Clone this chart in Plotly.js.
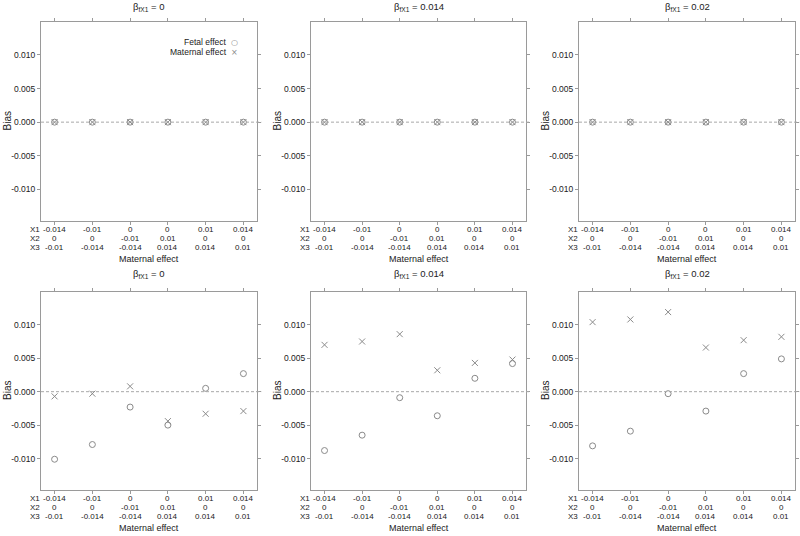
<!DOCTYPE html>
<html>
<head>
<meta charset="utf-8">
<script src="https://cdn.plot.ly/plotly-3.0.1.min.js"></script>
<style>
  body { margin: 0; background: #fff; }
  #chart { width: 800px; height: 536px; }
</style>
</head>
<body>
<div id="chart"></div>
<script>
// scenarios on the x axis (positions 1..6) and their three label rows
var scenario = [1, 2, 3, 4, 5, 6];
var x1Labels = ['-0.014', '-0.01', '0', '0', '0.01', '0.014'];
var x2Labels = ['0', '0', '-0.01', '0.01', '0', '0'];
var x3Labels = ['-0.01', '-0.014', '-0.014', '0.014', '0.014', '0.01'];
var rowNames = ['X1', 'X2', 'X3'];

// one title per column
var betaValues = ['0', '0.014', '0.02'];

var yTickVals = [-0.01, -0.005, 0, 0.005, 0.01];
var yTickText = ['-0.010', '-0.005', '0.000', '0.005', '0.010'];

// top row
var fetalTop1 = [0, 0, 0, 0, 0, 0];
var maternalTop1 = [0, 0, 0, 0, 0, 0];
var fetalTop2 = [0, 0, 0, 0, 0, 0];
var maternalTop2 = [0, 0, 0, 0, 0, 0];
var fetalTop3 = [0, 0, 0, 0, 0, 0];
var maternalTop3 = [0, 0, 0, 0, 0, 0];

// bottom row
var fetalBot1 = [-0.0101, -0.0079, -0.0023, -0.0050, 0.0005, 0.0027];
var maternalBot1 = [-0.0007, -0.0003, 0.0008, -0.0044, -0.0033, -0.0029];
var fetalBot2 = [-0.0088, -0.0065, -0.0009, -0.0036, 0.0020, 0.0042];
var maternalBot2 = [0.0070, 0.0075, 0.0086, 0.0032, 0.0043, 0.0048];
var fetalBot3 = [-0.0081, -0.0059, -0.0003, -0.0029, 0.0027, 0.0049];
var maternalBot3 = [0.0104, 0.0108, 0.0119, 0.0066, 0.0077, 0.0082];

var fetalAll = [fetalTop1, fetalTop2, fetalTop3, fetalBot1, fetalBot2, fetalBot3];
var maternalAll = [maternalTop1, maternalTop2, maternalTop3, maternalBot1, maternalBot2, maternalBot3];

var gray = '#8a8a8a';
var axisGray = '#9a9a9a';
var textCol = '#222';

var xDomains = [[0.05125, 0.32125], [0.38875, 0.6575], [0.72375, 0.99375]];
var yDomains = [[0.5877, 0.959], [0.0858, 0.4552]];
var titleShift = [15, 18];

var data = [];
var layout = {
  width: 800,
  height: 536,
  margin: { l: 0, r: 0, t: 0, b: 0 },
  paper_bgcolor: '#fff',
  plot_bgcolor: '#fff',
  font: { family: 'Liberation Sans, Arial, sans-serif', size: 8, color: textCol },
  showlegend: false,
  annotations: [],
  shapes: []
};

for (var p = 0; p < 6; p++) {
  var n = p + 1;
  var row = p < 3 ? 0 : 1;
  var col = p % 3;
  var xa = 'x' + (n === 1 ? '' : n);
  var ya = 'y' + (n === 1 ? '' : n);

  data.push({
    type: 'scatter', mode: 'markers', xaxis: xa, yaxis: ya,
    x: scenario, y: fetalAll[p], name: 'Fetal effect',
    marker: { symbol: 'circle-open', size: 6, color: gray, line: { width: 1 } },
    hoverinfo: 'x+y'
  });
  data.push({
    type: 'scatter', mode: 'markers', xaxis: xa, yaxis: ya,
    x: scenario, y: maternalAll[p], name: 'Maternal effect',
    marker: { symbol: 'x-thin-open', size: 6, color: gray, line: { width: 1, color: gray } },
    hoverinfo: 'x+y'
  });

  layout['xaxis' + (n === 1 ? '' : n)] = {
    domain: xDomains[col], anchor: ya,
    range: [0.64, 6.36], tickvals: scenario, showticklabels: false,
    ticks: 'outside', ticklen: 3, tickcolor: axisGray,
    showline: true, linecolor: axisGray, linewidth: 1, mirror: 'ticks',
    showgrid: false, zeroline: false, fixedrange: true
  };
  layout['yaxis' + (n === 1 ? '' : n)] = {
    domain: yDomains[row], anchor: xa,
    range: [-0.0147, 0.0149], tickvals: yTickVals, ticktext: yTickText,
    ticks: 'outside', ticklen: 3, tickcolor: axisGray,
    tickfont: { size: 8.5, color: textCol },
    showline: true, linecolor: axisGray, linewidth: 1, mirror: 'ticks',
    showgrid: false, zeroline: false, fixedrange: true
  };

  // dashed line at zero bias
  layout.shapes.push({
    type: 'line', xref: xa + ' domain', yref: ya,
    x0: 0, x1: 1.02, y0: 0, y1: 0,
    line: { color: '#a8a8a8', width: 1, dash: '3px,2px' }
  });

  // panel title
  layout.annotations.push({
    xref: xa + ' domain', yref: ya + ' domain', x: 0.5, y: 1,
    yshift: titleShift[row], yanchor: 'middle', showarrow: false,
    text: '\u03b2<sub>fX1</sub> = ' + betaValues[col],
    font: { size: 9.5, color: textCol }
  });
  // y title
  layout.annotations.push({
    xref: xa + ' domain', yref: ya + ' domain', x: 0, y: 0.5,
    xanchor: 'center', yanchor: 'middle',
    xshift: -34, textangle: -90, showarrow: false,
    text: 'Bias', font: { size: 10, color: textCol }
  });
  // x title
  layout.annotations.push({
    xref: xa + ' domain', yref: ya + ' domain', x: 0.5, y: 0,
    yshift: -38, yanchor: 'middle', showarrow: false,
    text: 'Maternal effect', font: { size: 9, color: textCol }
  });

  // three-row tick labels
  var rows = [x1Labels, x2Labels, x3Labels];
  for (var r = 0; r < 3; r++) {
    layout.annotations.push({
      xref: xa + ' domain', yref: ya + ' domain', x: 0, y: 0,
      xshift: 1, xanchor: 'right', yshift: -8.5 - 9 * r, yanchor: 'middle',
      showarrow: false, text: rowNames[r], font: { size: 8, color: textCol }
    });
    for (var j = 0; j < scenario.length; j++) {
      layout.annotations.push({
        xref: xa, yref: ya + ' domain', x: scenario[j], y: 0,
        yshift: -8.5 - 9 * r, yanchor: 'middle',
        showarrow: false, text: rows[r][j], font: { size: 8, color: textCol }
      });
    }
  }
}

// legend in the first panel, symbols to the right of the text
var legendNames = ['Fetal effect', 'Maternal effect'];
var legendGlyphs = ['\u25cb', '\u00d7'];
var legendY = [0.899, 0.849];
for (var k = 0; k < 2; k++) {
  layout.annotations.push({
    xref: 'x domain', yref: 'y domain', x: 0.866, y: legendY[k],
    xanchor: 'right', yanchor: 'middle', showarrow: false, borderpad: 0,
    text: legendNames[k], font: { size: 8.5, color: textCol }
  });
  layout.annotations.push({
    xref: 'x domain', yref: 'y domain', x: 0.894, y: legendY[k],
    xanchor: 'center', yanchor: 'middle', showarrow: false, borderpad: 0,
    text: legendGlyphs[k], font: { family: 'DejaVu Sans', size: 8, color: gray }
  });
}

Plotly.newPlot('chart', data, layout, { displayModeBar: false, staticPlot: true });
</script>
</body>
</html>
